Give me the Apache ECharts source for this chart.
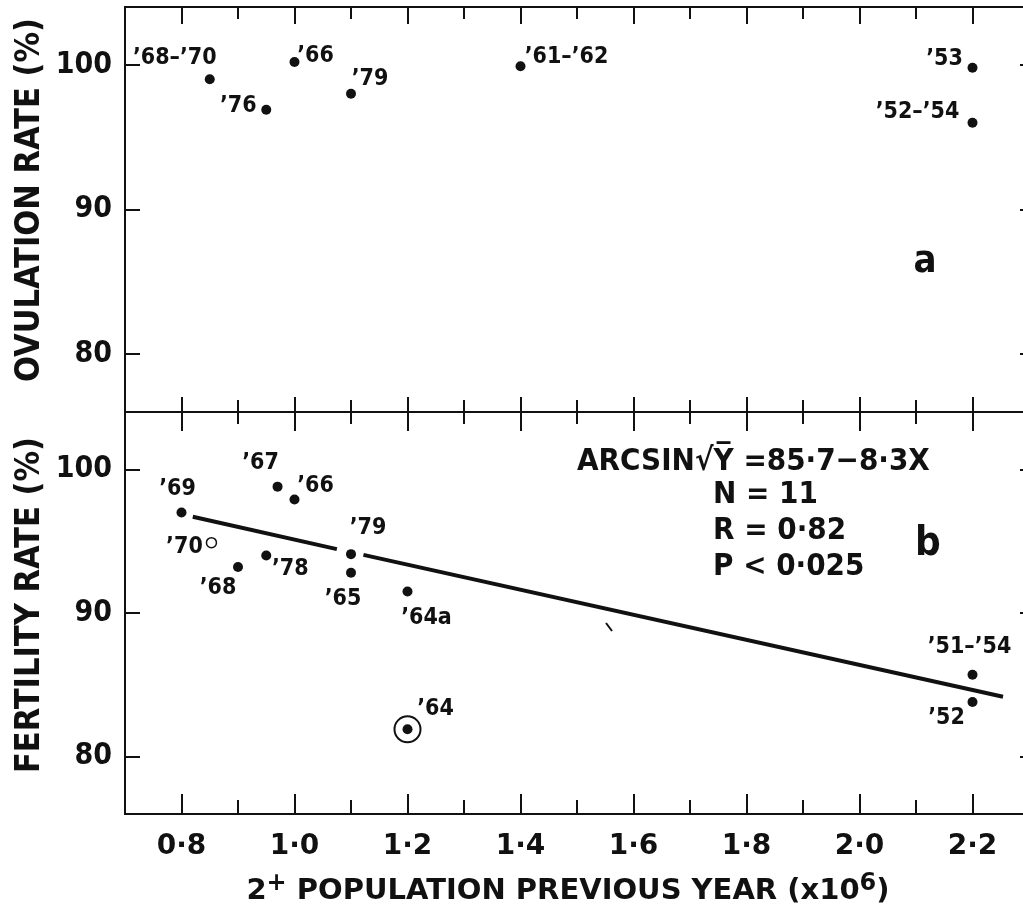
<!DOCTYPE html>
<html>
<head>
<meta charset="utf-8">
<script src="https://cdn.jsdelivr.net/npm/echarts@6/dist/echarts.min.js"></script>
<style>html,body{margin:0;padding:0;background:#fff}#c{width:1023px;height:917px}</style>
</head>
<body>
<div id="c"></div>
<script>
// ---- data ----
const majorTicks = [0.8, 1.0, 1.2, 1.4, 1.6, 1.8, 2.0, 2.2];
const minorTicks = [0.9, 1.1, 1.3, 1.5, 1.7, 1.9, 2.1];
const yTicks = [80, 90, 100];

// panel a: ovulation rate
const ovX = [0.85, 0.95, 1.0, 1.1, 1.4, 2.2, 2.2];
const ovY = [99.0, 96.9, 100.2, 98.0, 99.9, 99.8, 96.0];
const ovLabels = ['’68–’70', '’76', '’66', '’79', '’61–’62', '’53', '’52–’54'];

// panel b: fertility rate
const fxX = [0.8, 0.97, 1.0, 0.9, 0.95, 1.1, 1.1, 1.2, 1.2, 2.2, 2.2];
const fxY = [97.0, 98.8, 97.9, 93.2, 94.0, 94.1, 92.8, 91.5, 81.9, 85.7, 83.8];
const fxLabels = ['’69', '’67', '’66', '’68', '’78', '’79', '’65', '’64a', '’64', '’51–’54', '’52'];
const circledIndex = 8; // '64 circled point
const openX = [0.853];
const openY = [94.9];
const openLabels = ['’70'];

// regression line, drawn in two pieces
const fitX1 = [0.82, 1.075];
const fitY1 = [96.7, 94.45];
const fitX2 = [1.122, 2.254];
const fitY2 = [94.05, 84.17];

// ---- label placement (styles, not data) ----
const ovOffsets = [[-35,-21],[-28,-4],[21,-6],[19,-15],[46,-9],[-28,-9],[-55,-11]];
const fxOffsets = [[-4,-23],[-17,-24],[21,-14],[-20,21],[24,13],[17,-26],[-8,26],[19,27],[28,-20],[-3,-28],[-26,16]];
const openOffsets = [[-27,4]];

const INK = '#111';
const COND = '"DejaVu Sans Condensed", "DejaVu Sans", sans-serif';
const SANS = '"DejaVu Sans", sans-serif';

const fmt = v => (Math.round(v * 10) / 10).toFixed(1).replace('.', '·');

function xAx(grid, pos, ticks, len, labels) {
  return {
    type: 'value', gridIndex: grid, position: pos, min: 0.7, max: 2.3,
    axisLine: { show: true, onZero: false, lineStyle: { color: INK, width: 2 } },
    axisTick: { show: true, inside: true, length: len, customValues: ticks, lineStyle: { color: INK, width: 2 } },
    axisLabel: labels ? { show: true, customValues: ticks, formatter: fmt, color: INK, fontFamily: SANS, fontWeight: 'bold', fontSize: 28, margin: 19 } : { show: false },
    splitLine: { show: false }, minorTick: { show: false }
  };
}
function yAx(grid, pos, len, labels) {
  return {
    type: 'value', gridIndex: grid, position: pos, min: 76, max: 104,
    axisLine: { show: true, onZero: false, lineStyle: { color: INK, width: 2 } },
    axisTick: { show: true, inside: true, length: len, customValues: yTicks, lineStyle: { color: INK, width: 2 } },
    axisLabel: labels ? { show: true, customValues: yTicks, color: INK, fontFamily: COND, fontWeight: 'bold', fontSize: 30, margin: 13 } : { show: false },
    splitLine: { show: false }
  };
}

function pts(xs, ys, labels, offsets) {
  return xs.map((x, i) => ({
    value: [x, ys[i]],
    label: { show: true, position: 'inside', formatter: labels[i], offset: offsets[i],
             color: INK, fontFamily: COND, fontWeight: 'bold', fontSize: 23, align: 'center', verticalAlign: 'middle' }
  }));
}
const pair = (xs, ys) => xs.map((x, i) => [x, ys[i]]);

const txt = (x, y, text, size, align, extra) => Object.assign({
  type: 'text', x: x, y: y,
  style: { text: text, fill: INK, font: 'bold ' + size + 'px ' + COND,
           textAlign: align, textVerticalAlign: 'middle', align: align, verticalAlign: 'middle' }
}, extra || {});

const chart = echarts.init(document.getElementById('c'), null, { renderer: 'canvas' });
chart.setOption({
  animation: false,
  backgroundColor: '#fff',
  grid: [
    { left: 125, top: 7, width: 904, height: 405, outerBoundsMode: 'none', containLabel: false },
    { left: 125, top: 412, width: 904, height: 402, outerBoundsMode: 'none', containLabel: false }
  ],
  xAxis: [
    xAx(0, 'top', majorTicks, 17, false),
    xAx(0, 'top', minorTicks, 12, false),
    xAx(0, 'bottom', majorTicks, 15, false),
    xAx(0, 'bottom', minorTicks, 12, false),
    xAx(1, 'bottom', majorTicks, 20, true),
    xAx(1, 'bottom', minorTicks, 14, false),
    xAx(1, 'top', majorTicks, 19, false),
    xAx(1, 'top', minorTicks, 12, false)
  ],
  yAxis: [
    yAx(0, 'left', 15, true),
    yAx(0, 'right', 9, false),
    yAx(1, 'left', 15, true),
    yAx(1, 'right', 9, false)
  ],
  series: [
    { type: 'scatter', xAxisIndex: 0, yAxisIndex: 0, symbol: 'circle', symbolSize: 10,
      itemStyle: { color: INK, opacity: 1 }, data: pts(ovX, ovY, ovLabels, ovOffsets) },
    { type: 'line', xAxisIndex: 4, yAxisIndex: 2, symbol: 'none', lineStyle: { color: INK, width: 4 },
      data: pair(fitX1, fitY1), z: 1 },
    { type: 'line', xAxisIndex: 4, yAxisIndex: 2, symbol: 'none', lineStyle: { color: INK, width: 4 },
      data: pair(fitX2, fitY2), z: 1 },
    { type: 'scatter', xAxisIndex: 4, yAxisIndex: 2, symbol: 'circle', symbolSize: 26,
      itemStyle: { color: 'rgba(0,0,0,0)', borderColor: INK, borderWidth: 2, opacity: 1 },
      data: [[fxX[circledIndex], fxY[circledIndex]]], silent: true, z: 2 },
    { type: 'scatter', xAxisIndex: 4, yAxisIndex: 2, symbol: 'circle', symbolSize: 10,
      itemStyle: { color: INK, opacity: 1 }, data: pts(fxX, fxY, fxLabels, fxOffsets), z: 3 },
    { type: 'scatter', xAxisIndex: 4, yAxisIndex: 2, symbol: 'circle', symbolSize: 10,
      itemStyle: { color: '#fff', borderColor: INK, borderWidth: 1.5, opacity: 1 }, data: pts(openX, openY, openLabels, openOffsets), z: 3 }
  ],
  graphic: [
    txt(30, 200, 'OVULATION RATE (%)', 34, 'center', { rotation: Math.PI / 2 }),
    txt(30, 605, 'FERTILITY RATE (%)', 34, 'center', { rotation: Math.PI / 2 }),
    { type: 'text', x: 568, y: 891,
      style: { text: '{m|2}{s|+}{m| POPULATION PREVIOUS YEAR (x10}{s|6}{m|)}', fill: INK,
        textAlign: 'center', textVerticalAlign: 'middle', align: 'center', verticalAlign: 'middle',
        rich: { m: { fontFamily: SANS, fontWeight: 'bold', fontSize: 29, fill: INK, color: INK },
                s: { fontFamily: SANS, fontWeight: 'bold', fontSize: 24, fill: INK, color: INK, verticalAlign: 'top', padding: [0, 0, 14, 0] } } } },
    txt(925, 262, 'a', 38, 'center'),
    txt(928, 545, 'b', 40, 'center'),
    txt(577, 462, 'ARCSIN√Y\u0305 =85·7−8·3X', 31, 'left'),
    txt(713, 495, 'N = 11', 31, 'left'),
    txt(713, 531, 'R = 0·82', 31, 'left'),
    txt(713, 567, 'P < 0·025', 31, 'left'),
    { type: 'line', shape: { x1: 606, y1: 623, x2: 612, y2: 631 }, style: { stroke: INK, lineWidth: 2 } }
  ]
});
</script>
</body>
</html>
